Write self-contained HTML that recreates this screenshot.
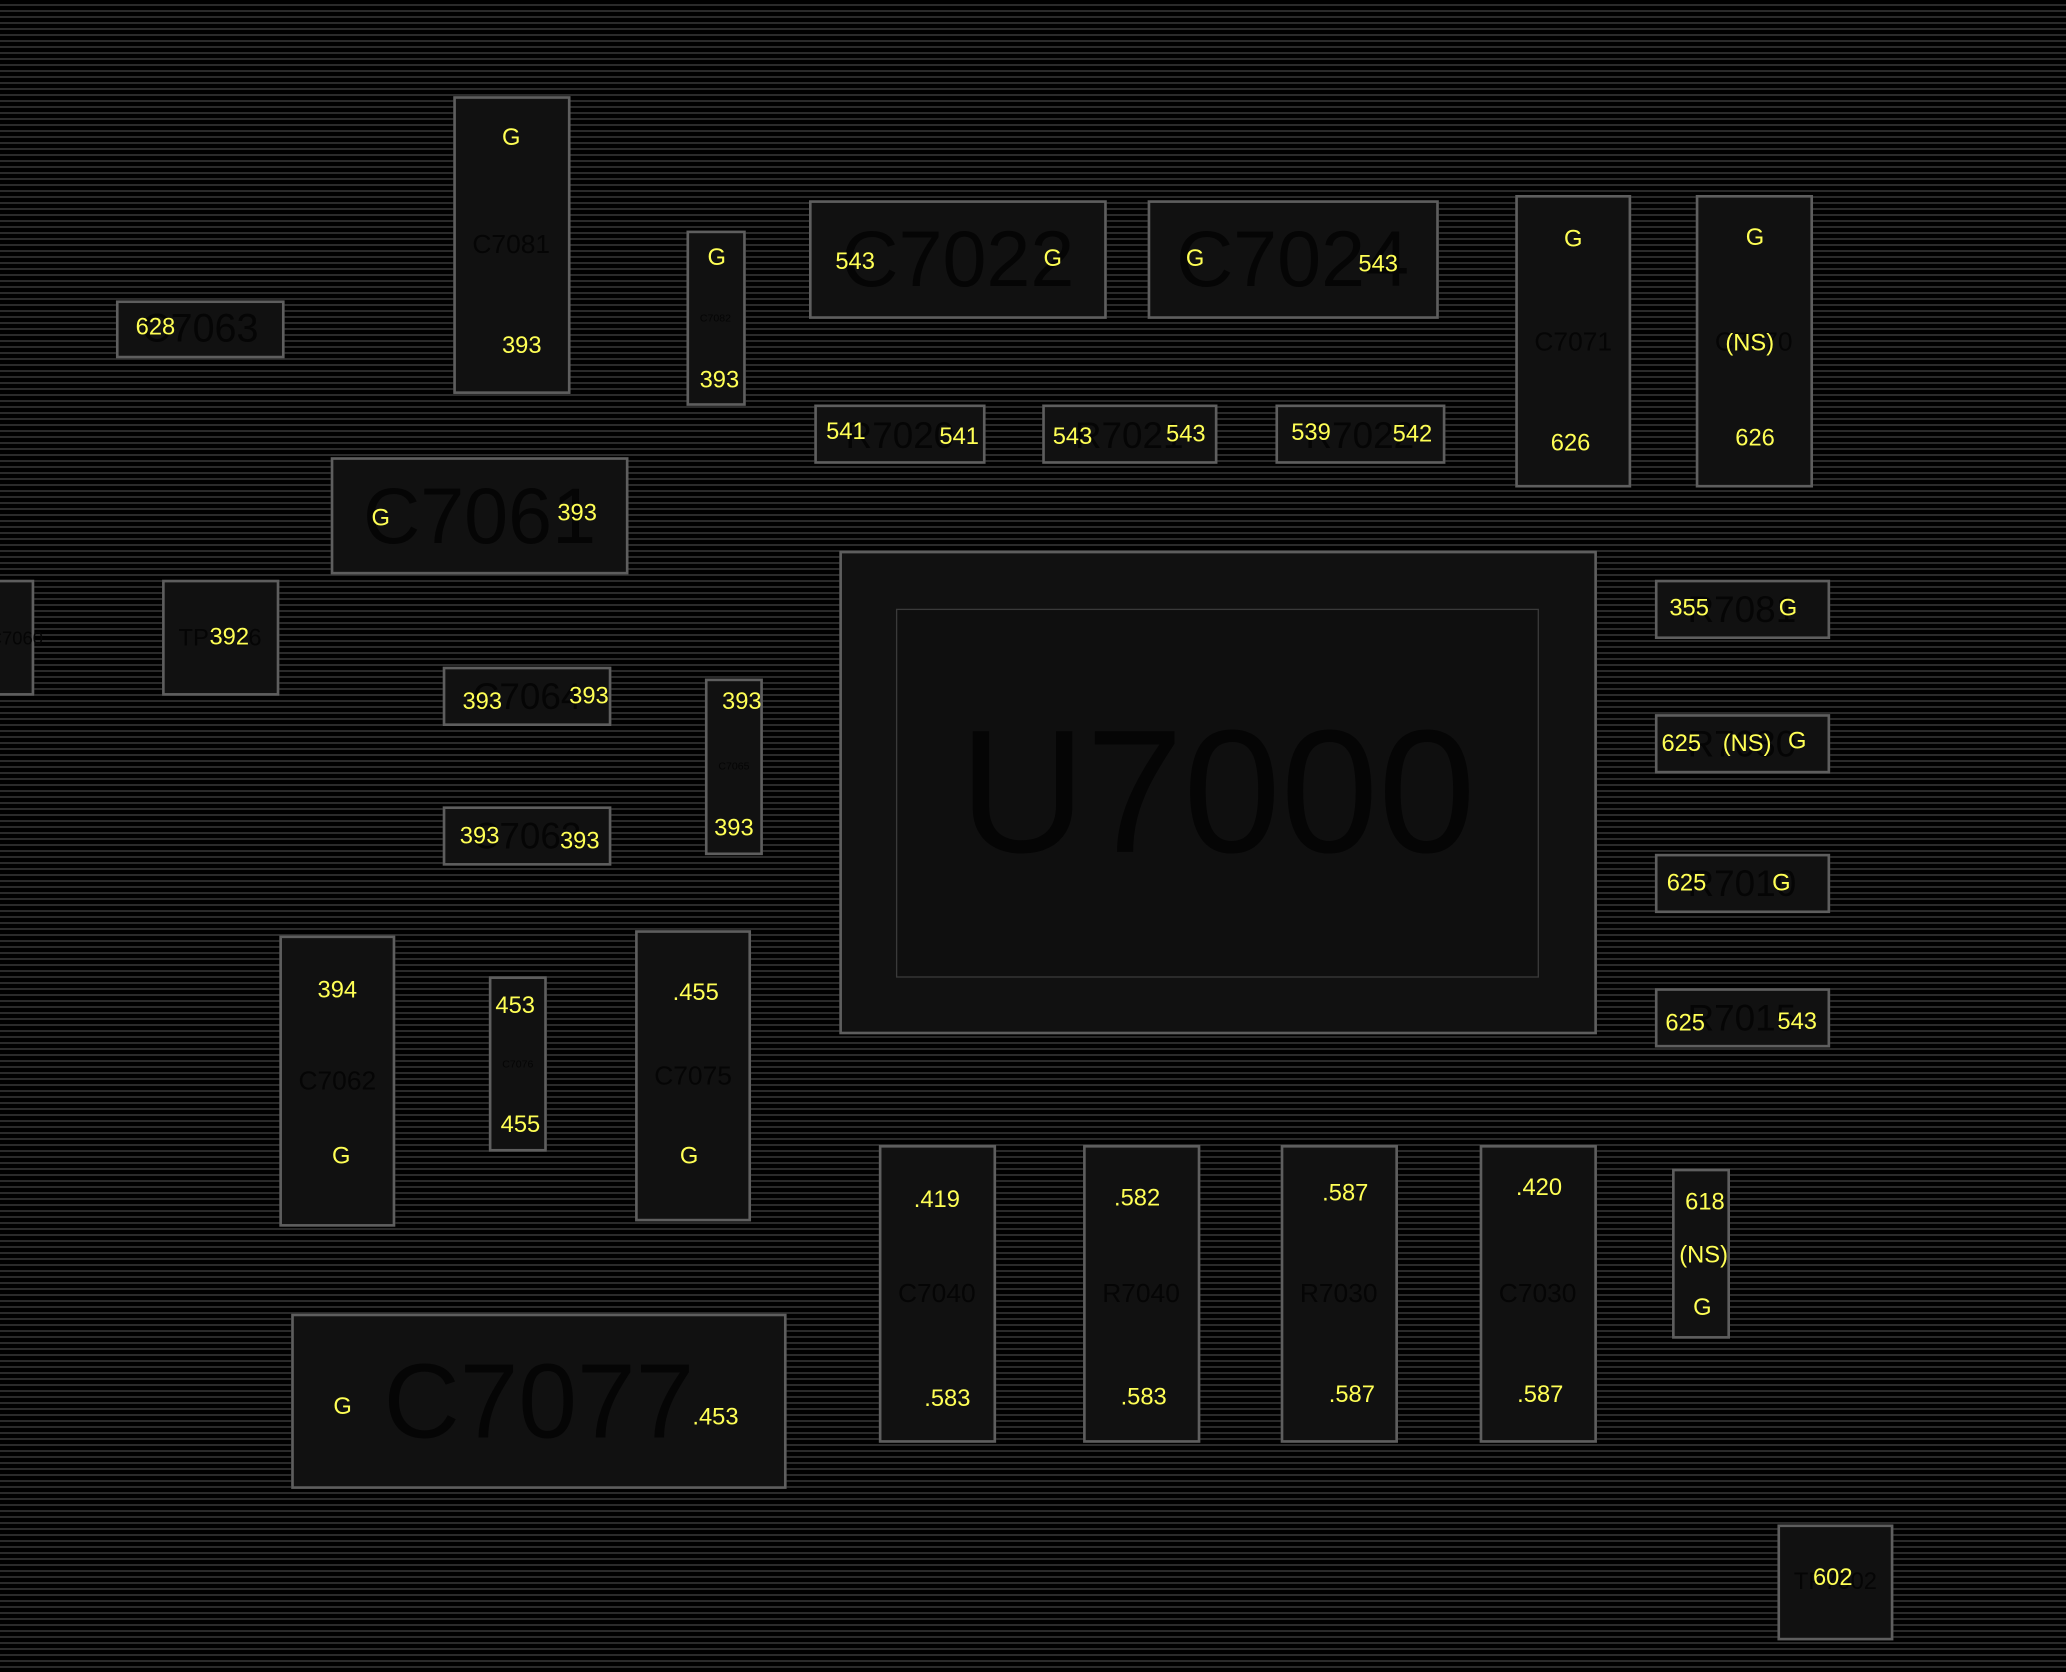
<!DOCTYPE html>
<html><head><meta charset="utf-8"><style>
html,body{margin:0;padding:0;width:2066px;height:1672px;overflow:hidden;background:#000;
background-image:repeating-linear-gradient(to bottom,#000 0,#000 4px,#2a2a2a 4px,#2a2a2a 6px);}
#c{position:absolute;left:0;top:0;width:1568px;height:1269px;transform:scale(1.31760);transform-origin:0 0;font-family:"Liberation Sans",sans-serif;}
.b{position:absolute;background:#111;border:2px solid #5e5e5e;box-sizing:border-box;}
.t{position:absolute;transform:translate(-50%,-50%);white-space:nowrap;line-height:1;}
.y{color:#ffff55;font-size:18px;}
.d{color:#050505;}
</style></head><body><div id="c">
<!-- boxes -->
<div class="b" style="left:344px;top:73px;width:89px;height:226px"></div>
<div class="b" style="left:88px;top:228px;width:128px;height:44px"></div>
<div class="b" style="left:521px;top:175px;width:45px;height:133px"></div>
<div class="b" style="left:614px;top:152px;width:226px;height:90px"></div>
<div class="b" style="left:871px;top:152px;width:221px;height:90px"></div>
<div class="b" style="left:1150px;top:148px;width:88px;height:222px"></div>
<div class="b" style="left:1287px;top:148px;width:89px;height:222px"></div>
<div class="b" style="left:618px;top:307px;width:130px;height:45px"></div>
<div class="b" style="left:791px;top:307px;width:133px;height:45px"></div>
<div class="b" style="left:968px;top:307px;width:129px;height:45px"></div>
<div class="b" style="left:251px;top:347px;width:226px;height:89px"></div>
<div class="b" style="left:-4px;top:440px;width:30px;height:88px"></div>
<div class="b" style="left:123px;top:440px;width:89px;height:88px"></div>
<div class="b" style="left:336px;top:506px;width:128px;height:45px"></div>
<div class="b" style="left:535px;top:515px;width:44px;height:134px"></div>
<div class="b" style="left:336px;top:612px;width:128px;height:45px"></div>
<div class="b" style="left:637px;top:418px;width:575px;height:367px"></div>
<div class="b" style="left:680px;top:462px;width:488px;height:280px;border:1px solid #3a3a3a;background:#0f0f0f"></div>
<div class="b" style="left:1256px;top:440px;width:133px;height:45px"></div>
<div class="b" style="left:1256px;top:542px;width:133px;height:45px"></div>
<div class="b" style="left:1256px;top:648px;width:133px;height:45px"></div>
<div class="b" style="left:1256px;top:750px;width:133px;height:45px"></div>
<div class="b" style="left:212px;top:710px;width:88px;height:221px"></div>
<div class="b" style="left:371px;top:741px;width:44px;height:133px"></div>
<div class="b" style="left:482px;top:706px;width:88px;height:221px"></div>
<div class="b" style="left:221px;top:997px;width:376px;height:133px"></div>
<div class="b" style="left:667px;top:869px;width:89px;height:226px"></div>
<div class="b" style="left:822px;top:869px;width:89px;height:226px"></div>
<div class="b" style="left:972px;top:869px;width:89px;height:226px"></div>
<div class="b" style="left:1123px;top:869px;width:89px;height:226px"></div>
<div class="b" style="left:1269px;top:887px;width:44px;height:129px"></div>
<div class="b" style="left:1349px;top:1157px;width:88px;height:88px"></div>
<!-- dark labels -->
<span class="t d" style="left:388px;top:186px;font-size:20px">C7081</span>
<span class="t d" style="left:152px;top:250px;font-size:30px">C7063</span>
<span class="t d" style="left:543px;top:242px;font-size:8px">C7082</span>
<span class="t d" style="left:727px;top:197px;font-size:60px">C7022</span>
<span class="t d" style="left:981px;top:197px;font-size:60px">C7024</span>
<span class="t d" style="left:1194px;top:260px;font-size:20px">C7071</span>
<span class="t d" style="left:1331px;top:260px;font-size:20px">C7070</span>
<span class="t d" style="left:683px;top:331px;font-size:28px">R7020</span>
<span class="t d" style="left:857px;top:331px;font-size:28px">R7021</span>
<span class="t d" style="left:1032px;top:331px;font-size:28px">R7022</span>
<span class="t d" style="left:364px;top:392px;font-size:60px">C7061</span>
<span class="t d" style="left:12px;top:484px;font-size:14px">C7060</span>
<span class="t d" style="left:167px;top:484px;font-size:18px">TP7016</span>
<span class="t d" style="left:400px;top:529px;font-size:28px">C7064</span>
<span class="t d" style="left:557px;top:582px;font-size:8px">C7065</span>
<span class="t d" style="left:400px;top:635px;font-size:28px">C7063</span>
<span class="t d" style="left:924px;top:602px;font-size:133px">U7000</span>
<span class="t d" style="left:1322px;top:463px;font-size:28px">R7081</span>
<span class="t d" style="left:1322px;top:565px;font-size:28px">R7080</span>
<span class="t d" style="left:1322px;top:671px;font-size:28px">R7010</span>
<span class="t d" style="left:1322px;top:773px;font-size:28px">R7015</span>
<span class="t d" style="left:256px;top:821px;font-size:20px">C7062</span>
<span class="t d" style="left:393px;top:808px;font-size:8px">C7076</span>
<span class="t d" style="left:526px;top:817px;font-size:20px">C7075</span>
<span class="t d" style="left:409px;top:1064px;font-size:80px">C7077</span>
<span class="t d" style="left:711px;top:982px;font-size:20px">C7040</span>
<span class="t d" style="left:866px;top:982px;font-size:20px">R7040</span>
<span class="t d" style="left:1016px;top:982px;font-size:20px">R7030</span>
<span class="t d" style="left:1167px;top:982px;font-size:20px">C7030</span>
<span class="t d" style="left:1393px;top:1200px;font-size:18px">TP7002</span>
<!-- yellow labels -->
<span class="t y" style="left:388px;top:104px">G</span>
<span class="t y" style="left:396px;top:262px">393</span>
<span class="t y" style="left:118px;top:248px">628</span>
<span class="t y" style="left:544px;top:195px">G</span>
<span class="t y" style="left:546px;top:288px">393</span>
<span class="t y" style="left:649px;top:198px">543</span>
<span class="t y" style="left:799px;top:196px">G</span>
<span class="t y" style="left:907px;top:196px">G</span>
<span class="t y" style="left:1046px;top:200px">543</span>
<span class="t y" style="left:1194px;top:181px">G</span>
<span class="t y" style="left:1192px;top:336px">626</span>
<span class="t y" style="left:1332px;top:180px">G</span>
<span class="t y" style="left:1328px;top:260px">(NS)</span>
<span class="t y" style="left:1332px;top:332px">626</span>
<span class="t y" style="left:642px;top:327px">541</span>
<span class="t y" style="left:728px;top:331px">541</span>
<span class="t y" style="left:814px;top:331px">543</span>
<span class="t y" style="left:900px;top:329px">543</span>
<span class="t y" style="left:995px;top:328px">539</span>
<span class="t y" style="left:1072px;top:329px">542</span>
<span class="t y" style="left:289px;top:393px">G</span>
<span class="t y" style="left:438px;top:389px">393</span>
<span class="t y" style="left:174px;top:483px">392</span>
<span class="t y" style="left:366px;top:532px">393</span>
<span class="t y" style="left:447px;top:528px">393</span>
<span class="t y" style="left:563px;top:532px">393</span>
<span class="t y" style="left:557px;top:628px">393</span>
<span class="t y" style="left:364px;top:634px">393</span>
<span class="t y" style="left:440px;top:638px">393</span>
<span class="t y" style="left:1282px;top:461px">355</span>
<span class="t y" style="left:1357px;top:461px">G</span>
<span class="t y" style="left:1276px;top:564px">625</span>
<span class="t y" style="left:1326px;top:564px">(NS)</span>
<span class="t y" style="left:1364px;top:562px">G</span>
<span class="t y" style="left:1280px;top:670px">625</span>
<span class="t y" style="left:1352px;top:670px">G</span>
<span class="t y" style="left:1279px;top:776px">625</span>
<span class="t y" style="left:1364px;top:775px">543</span>
<span class="t y" style="left:256px;top:751px">394</span>
<span class="t y" style="left:259px;top:877px">G</span>
<span class="t y" style="left:391px;top:763px">453</span>
<span class="t y" style="left:395px;top:853px">455</span>
<span class="t y" style="left:528px;top:753px">.455</span>
<span class="t y" style="left:523px;top:877px">G</span>
<span class="t y" style="left:260px;top:1067px">G</span>
<span class="t y" style="left:543px;top:1075px">.453</span>
<span class="t y" style="left:711px;top:910px">.419</span>
<span class="t y" style="left:719px;top:1061px">.583</span>
<span class="t y" style="left:863px;top:909px">.582</span>
<span class="t y" style="left:868px;top:1060px">.583</span>
<span class="t y" style="left:1021px;top:905px">.587</span>
<span class="t y" style="left:1026px;top:1058px">.587</span>
<span class="t y" style="left:1168px;top:901px">.420</span>
<span class="t y" style="left:1169px;top:1058px">.587</span>
<span class="t y" style="left:1294px;top:912px">618</span>
<span class="t y" style="left:1293px;top:952px">(NS)</span>
<span class="t y" style="left:1292px;top:992px">G</span>
<span class="t y" style="left:1391px;top:1197px">602</span>
</div></body></html>
